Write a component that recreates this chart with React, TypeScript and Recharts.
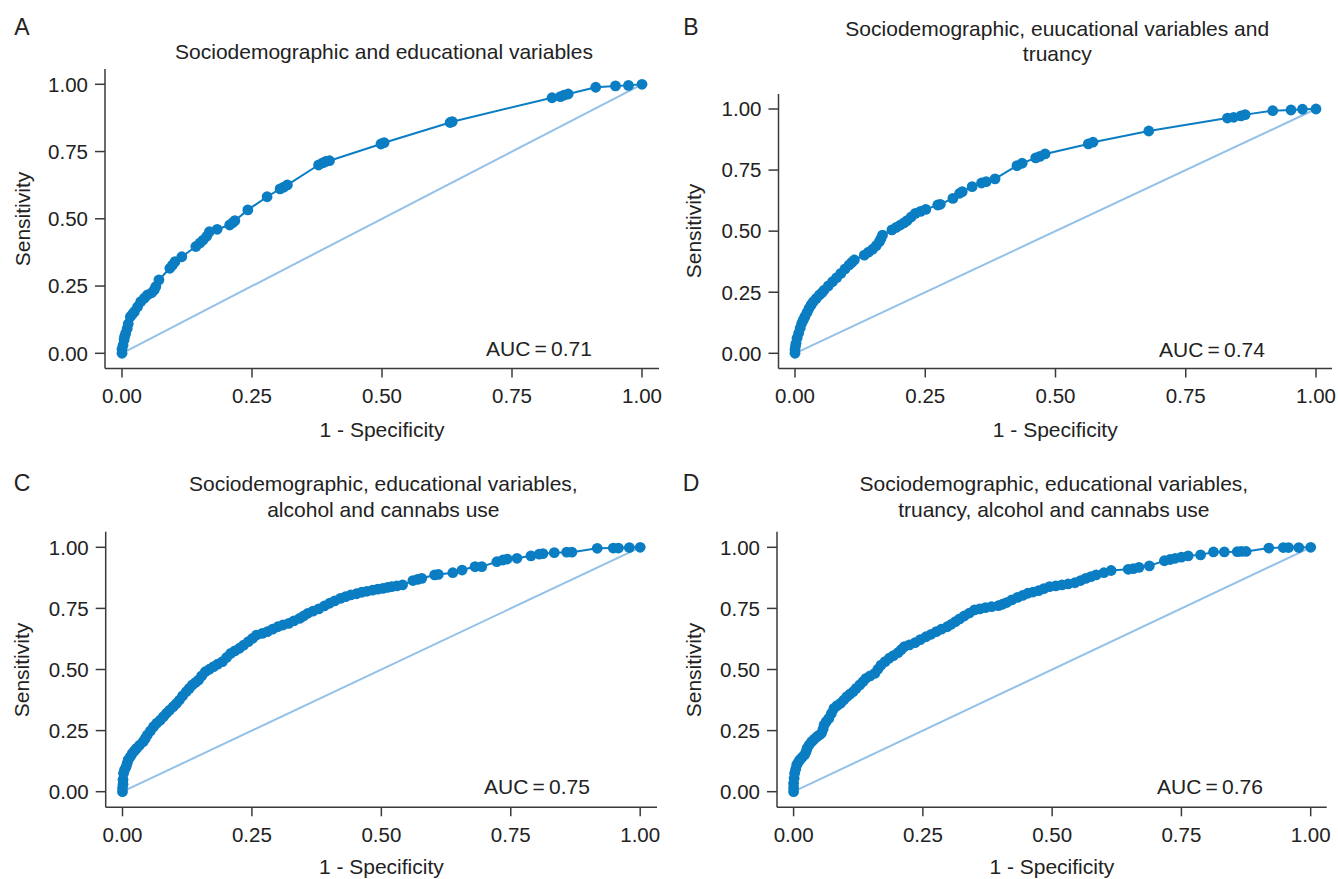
import { LineChart, Line, XAxis, YAxis } from "recharts";

// ---- data ----
const ticks = [0, 0.25, 0.5, 0.75, 1];
const tickLabels = ["0.00", "0.25", "0.50", "0.75", "1.00"];

const fprA = [0, 0, 0.002, 0.004, 0.005, 0.007, 0.01, 0.012, 0.016, 0.02, 0.024, 0.03, 0.036, 0.043, 0.049, 0.057, 0.062, 0.065, 0.071, 0.092, 0.097, 0.102, 0.115, 0.142, 0.15, 0.156, 0.163, 0.168, 0.183, 0.207, 0.213, 0.217, 0.242, 0.279, 0.304, 0.311, 0.318, 0.378, 0.386, 0.392, 0.399, 0.498, 0.504, 0.631, 0.635, 0.827, 0.843, 0.85, 0.858, 0.911, 0.949, 0.974, 1];
const tprA = [0, 0.015, 0.03, 0.05, 0.062, 0.074, 0.092, 0.11, 0.136, 0.145, 0.155, 0.173, 0.192, 0.205, 0.217, 0.225, 0.236, 0.248, 0.273, 0.316, 0.328, 0.341, 0.359, 0.397, 0.41, 0.421, 0.435, 0.452, 0.461, 0.477, 0.486, 0.493, 0.533, 0.582, 0.611, 0.618, 0.626, 0.7, 0.708, 0.713, 0.716, 0.778, 0.783, 0.858, 0.861, 0.95, 0.954, 0.96, 0.964, 0.989, 0.994, 0.996, 1];

const fprB = [0, 0, 0.001, 0.002, 0.004, 0.007, 0.01, 0.013, 0.016, 0.019, 0.023, 0.027, 0.031, 0.035, 0.041, 0.047, 0.052, 0.056, 0.064, 0.072, 0.08, 0.088, 0.096, 0.104, 0.109, 0.114, 0.133, 0.141, 0.149, 0.156, 0.162, 0.165, 0.168, 0.186, 0.194, 0.202, 0.209, 0.215, 0.223, 0.231, 0.241, 0.251, 0.274, 0.279, 0.303, 0.316, 0.321, 0.34, 0.358, 0.367, 0.384, 0.426, 0.436, 0.462, 0.47, 0.48, 0.563, 0.572, 0.679, 0.83, 0.842, 0.856, 0.864, 0.917, 0.952, 0.974, 1];
const tprB = [0, 0.015, 0.03, 0.041, 0.062, 0.082, 0.103, 0.123, 0.137, 0.15, 0.167, 0.184, 0.198, 0.211, 0.225, 0.239, 0.249, 0.259, 0.276, 0.293, 0.31, 0.327, 0.345, 0.362, 0.372, 0.382, 0.402, 0.414, 0.426, 0.441, 0.457, 0.47, 0.484, 0.505, 0.515, 0.525, 0.534, 0.543, 0.558, 0.573, 0.581, 0.589, 0.607, 0.61, 0.634, 0.655, 0.662, 0.682, 0.697, 0.703, 0.714, 0.768, 0.778, 0.8, 0.806, 0.816, 0.857, 0.864, 0.91, 0.963, 0.966, 0.972, 0.977, 0.993, 0.996, 0.999, 1];

const fprC = [0, 0, 0.001, 0.001, 0.002, 0.004, 0.007, 0.009, 0.011, 0.015, 0.019, 0.023, 0.027, 0.033, 0.04, 0.044, 0.048, 0.054, 0.06, 0.066, 0.073, 0.079, 0.085, 0.091, 0.098, 0.104, 0.11, 0.116, 0.123, 0.129, 0.135, 0.141, 0.147, 0.153, 0.16, 0.168, 0.176, 0.184, 0.193, 0.201, 0.209, 0.217, 0.226, 0.234, 0.243, 0.251, 0.259, 0.27, 0.28, 0.29, 0.3, 0.31, 0.321, 0.331, 0.342, 0.35, 0.358, 0.368, 0.379, 0.39, 0.4, 0.41, 0.421, 0.431, 0.441, 0.452, 0.462, 0.472, 0.483, 0.493, 0.503, 0.512, 0.52, 0.53, 0.541, 0.561, 0.57, 0.578, 0.603, 0.61, 0.638, 0.656, 0.681, 0.694, 0.723, 0.735, 0.743, 0.762, 0.789, 0.805, 0.812, 0.834, 0.858, 0.868, 0.917, 0.948, 0.958, 0.979, 1];
const tprC = [0, 0.015, 0.03, 0.05, 0.075, 0.09, 0.102, 0.116, 0.13, 0.143, 0.157, 0.167, 0.177, 0.19, 0.205, 0.218, 0.232, 0.249, 0.266, 0.28, 0.293, 0.307, 0.321, 0.334, 0.348, 0.361, 0.375, 0.392, 0.409, 0.423, 0.437, 0.447, 0.457, 0.474, 0.491, 0.501, 0.512, 0.522, 0.532, 0.549, 0.566, 0.576, 0.587, 0.6, 0.614, 0.627, 0.641, 0.648, 0.655, 0.665, 0.675, 0.682, 0.689, 0.699, 0.709, 0.719, 0.73, 0.739, 0.748, 0.76, 0.771, 0.781, 0.791, 0.798, 0.805, 0.81, 0.816, 0.82, 0.825, 0.829, 0.832, 0.836, 0.839, 0.842, 0.846, 0.864, 0.869, 0.873, 0.887, 0.889, 0.896, 0.907, 0.921, 0.921, 0.941, 0.948, 0.952, 0.955, 0.965, 0.972, 0.974, 0.978, 0.98, 0.98, 0.996, 0.997, 0.997, 0.999, 1];

const fprD = [0, 0, 0, 0.001, 0.002, 0.004, 0.006, 0.009, 0.012, 0.016, 0.021, 0.024, 0.026, 0.03, 0.035, 0.04, 0.045, 0.05, 0.054, 0.057, 0.059, 0.063, 0.068, 0.073, 0.078, 0.084, 0.091, 0.097, 0.103, 0.109, 0.115, 0.121, 0.128, 0.134, 0.14, 0.148, 0.157, 0.163, 0.169, 0.177, 0.185, 0.193, 0.202, 0.208, 0.214, 0.224, 0.235, 0.245, 0.256, 0.266, 0.276, 0.286, 0.297, 0.305, 0.313, 0.321, 0.33, 0.34, 0.35, 0.36, 0.371, 0.383, 0.396, 0.404, 0.412, 0.422, 0.433, 0.443, 0.453, 0.463, 0.474, 0.484, 0.495, 0.507, 0.519, 0.531, 0.544, 0.555, 0.565, 0.575, 0.585, 0.6, 0.614, 0.647, 0.657, 0.668, 0.688, 0.717, 0.728, 0.738, 0.75, 0.763, 0.787, 0.812, 0.833, 0.858, 0.866, 0.875, 0.919, 0.947, 0.957, 0.977, 1];
const tprD = [0, 0.015, 0.034, 0.055, 0.075, 0.092, 0.109, 0.12, 0.13, 0.14, 0.15, 0.163, 0.177, 0.191, 0.205, 0.215, 0.225, 0.232, 0.239, 0.256, 0.273, 0.287, 0.3, 0.32, 0.341, 0.352, 0.362, 0.375, 0.389, 0.399, 0.409, 0.423, 0.437, 0.45, 0.464, 0.474, 0.484, 0.501, 0.518, 0.532, 0.546, 0.557, 0.569, 0.581, 0.593, 0.601, 0.61, 0.622, 0.634, 0.644, 0.655, 0.665, 0.675, 0.685, 0.696, 0.707, 0.719, 0.731, 0.744, 0.748, 0.753, 0.757, 0.761, 0.767, 0.774, 0.785, 0.795, 0.803, 0.812, 0.817, 0.823, 0.831, 0.839, 0.842, 0.846, 0.85, 0.855, 0.864, 0.873, 0.88, 0.887, 0.896, 0.905, 0.91, 0.913, 0.918, 0.924, 0.945, 0.95, 0.955, 0.96, 0.965, 0.969, 0.981, 0.981, 0.982, 0.983, 0.983, 0.997, 0.999, 0.999, 0.999, 1];

const diagX = [0, 1];
const diagY = [0, 1];

// ---- look ----
const BLUE = "#0a7dc3";
const LIGHT = "#93c1e8";
const AXIS = "#3a3a3a";
const TEXT = "#222";
const FONT = "'Liberation Sans', Arial, sans-serif";

const zip = (xs: number[], ys: number[]) => xs.map((x, i) => ({ x, y: ys[i] }));
const diagonal = zip(diagX, diagY);

type Panel = {
  letter: string;
  title: string[];
  auc: string;
  fpr: number[];
  tpr: number[];
  box: { x: number; y: number; w: number; h: number };
  // plot frame and tick pixel positions (page coords)
  l: number; r: number; t: number; b: number;
  x0: number; x1: number; y0: number; y1: number;
  titleY: number;
  aucX: number; aucY: number;
  letterX: number; letterY: number;
  yLabelX: number; xLabelY: number;
};

const panels: Panel[] = [
  {
    letter: "A", title: ["Sociodemographic and educational variables"], auc: "0.71",
    fpr: fprA, tpr: tprA, box: { x: 0, y: 0, w: 670, h: 440 },
    l: 105, r: 659, t: 69, b: 368.5, x0: 122, x1: 642, y0: 353.3, y1: 84.3,
    titleY: 51.7, aucX: 539, aucY: 349.3, letterX: 22, letterY: 26.5, yLabelX: 23, xLabelY: 430,
  },
  {
    letter: "B", title: ["Sociodemographic, euucational variables and", "truancy"], auc: "0.74",
    fpr: fprB, tpr: tprB, box: { x: 670, y: 0, w: 668, h: 440 },
    l: 778.5, r: 1332, t: 94, b: 368.5, x0: 795, x1: 1316, y0: 353.3, y1: 109,
    titleY: 40.8, aucX: 1212, aucY: 350, letterX: 691, letterY: 26.5, yLabelX: 693.5, xLabelY: 430,
  },
  {
    letter: "C", title: ["Sociodemographic, educational variables,", "alcohol and cannabs use"], auc: "0.75",
    fpr: fprC, tpr: tprC, box: { x: 0, y: 440, w: 670, h: 439 },
    l: 105.7, r: 657, t: 531.7, b: 807.3, x0: 122.5, x1: 640.2, y0: 791.7, y1: 547.3,
    titleY: 496.3, aucX: 537, aucY: 786.7, letterX: 22, letterY: 482.5, yLabelX: 22, xLabelY: 866.7,
  },
  {
    letter: "D", title: ["Sociodemographic, educational variables,", "truancy, alcohol and cannabs use"], auc: "0.76",
    fpr: fprD, tpr: tprD, box: { x: 670, y: 440, w: 668, h: 439 },
    l: 777, r: 1326.7, t: 531.7, b: 807.3, x0: 793.6, x1: 1310.7, y0: 791.7, y1: 547.3,
    titleY: 496.3, aucX: 1210, aucY: 786.7, letterX: 691, letterY: 482.5, yLabelX: 693.5, xLabelY: 866.7,
  },
];

const fmt = (v: number) => {
  const i = ticks.indexOf(v);
  return i >= 0 ? tickLabels[i] : v.toFixed(2);
};

const centered = (x: number, y: number): React.CSSProperties => ({
  position: "absolute",
  left: x,
  top: y,
  transform: "translate(-50%, -50%)",
  whiteSpace: "nowrap",
  color: TEXT,
});

function RocPanel({ p }: { p: Panel }) {
  const xs = p.x1 - p.x0;
  const ys = p.y0 - p.y1;
  const xDomain = [-(p.x0 - p.l) / xs, 1 + (p.r - p.x1) / xs];
  const yDomain = [-(p.b - p.y0) / ys, 1 + (p.y1 - p.t) / ys];
  const xAxisH = 40;
  const data = zip(p.fpr, p.tpr);
  const midX = (p.l + p.r) / 2;
  const midY = (p.t + p.b) / 2;

  return (
    <>
      <div style={{ position: "absolute", left: p.box.x, top: p.box.y }}>
        <LineChart
          width={p.box.w}
          height={p.box.h}
          data={data}
          margin={{
            top: p.t - p.box.y,
            right: p.box.x + p.box.w - p.r,
            left: 0,
            bottom: p.box.y + p.box.h - p.b - xAxisH,
          }}
        >
          <XAxis
            type="number"
            dataKey="x"
            domain={xDomain}
            allowDataOverflow
            ticks={ticks}
            interval={0}
            tickFormatter={fmt}
            tickSize={9}
            tickMargin={11}
            height={xAxisH}
            axisLine={{ stroke: AXIS, strokeWidth: 1.5 }}
            tickLine={{ stroke: AXIS, strokeWidth: 1.5 }}
            tick={{ fill: TEXT, fontSize: 20.5 }}
          />
          <YAxis
            type="number"
            dataKey="y"
            domain={yDomain}
            allowDataOverflow
            ticks={ticks}
            interval={0}
            tickFormatter={fmt}
            tickSize={10}
            tickMargin={7}
            width={p.l - p.box.x}
            axisLine={{ stroke: AXIS, strokeWidth: 1.5 }}
            tickLine={{ stroke: AXIS, strokeWidth: 1.5 }}
            tick={{ fill: TEXT, fontSize: 20.5 }}
          />
          <Line
            data={diagonal}
            dataKey="y"
            type="linear"
            stroke={LIGHT}
            strokeWidth={2}
            dot={false}
            isAnimationActive={false}
          />
          <Line
            dataKey="y"
            type="linear"
            stroke={BLUE}
            strokeWidth={2}
            dot={{ r: 5.4, fill: BLUE, stroke: BLUE, strokeWidth: 0 }}
            activeDot={false}
            isAnimationActive={false}
          />
        </LineChart>
      </div>
      <div style={{ ...centered(p.letterX, p.letterY), fontSize: 23 }}>{p.letter}</div>
      <div style={{ ...centered(midX + 2, p.titleY), fontSize: 21, lineHeight: "25.5px", textAlign: "center" }}>
        {p.title.map((line) => (
          <div key={line}>{line}</div>
        ))}
      </div>
      <div style={{ ...centered(p.aucX, p.aucY), fontSize: 21 }}>
        {"AUC\u2009=\u2009" + p.auc}
      </div>
      <div style={{ ...centered(midX, p.xLabelY), fontSize: 21 }}>1 - Specificity</div>
      <div style={{ ...centered(p.yLabelX, midY), fontSize: 21, transform: "translate(-50%, -50%) rotate(-90deg)" }}>
        Sensitivity
      </div>
    </>
  );
}

export default function App() {
  return (
    <div
      style={{
        position: "absolute",
        left: 0,
        top: 0,
        width: 1338,
        height: 879,
        background: "#fff",
        fontFamily: FONT,
        overflow: "hidden",
      }}
    >
      {panels.map((p) => (
        <RocPanel key={p.letter} p={p} />
      ))}
    </div>
  );
}
